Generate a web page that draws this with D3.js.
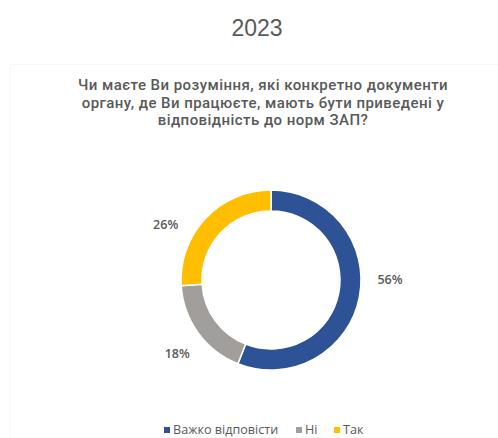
<!DOCTYPE html>
<html><head><meta charset="utf-8">
<script src="https://cdn.jsdelivr.net/npm/d3@7"></script>
<style>body{margin:0;background:#fff;}svg{display:block;}</style>
</head><body>
<svg id="c" width="498" height="438"></svg>
<script>
const chartTitle = "2023";
const questionLines = ["Чи маєте Ви розуміння, які конкретно документи",
  "органу, де Ви працюєте, мають бути приведені у",
  "відповідність до норм ЗАП?"];
const categories = ["Важко відповісти", "Ні", "Так"];
const values = [56, 18, 26];
const colors = ["#2D5296", "#A19E9C", "#FFBF00"];

const svg = d3.select("#c");
const textGray = "#595959";
const font = "'Open Sans', 'Noto Sans', sans-serif";

// faint frame
svg.append("rect").attr("x", 10.5).attr("y", 64.5).attr("width", 520).attr("height", 400)
  .attr("fill", "none").attr("stroke", "#f7f7f7");

svg.append("text").attr("x", 257).attr("y", 36).attr("text-anchor", "middle")
  .attr("font-family", "'Liberation Sans', Arial, sans-serif").attr("font-size", 23)
  .attr("fill", textGray).text(chartTitle);

svg.append("g").selectAll("text").data(questionLines).join("text")
  .attr("x", 263).attr("y", (d, i) => 90 + i * 17.6).attr("text-anchor", "middle")
  .attr("font-family", "Roboto, 'Liberation Sans', sans-serif").attr("font-weight", 500).attr("font-size", 15)
  .attr("letter-spacing", 0.45)
  .attr("fill", textGray).text(d => d);

const cx = 271, cy = 280, R = 90, r = 69;
const pie = d3.pie().sort(null).value(d => d.v);
const data = pie(categories.map((c, i) => ({c, v: values[i], i})));
const arc = d3.arc().innerRadius(r).outerRadius(R);
const g = svg.append("g").attr("transform", `translate(${cx},${cy})`);
g.selectAll("path").data(data).join("path")
  .attr("d", arc).attr("fill", d => colors[d.data.i])
  .attr("stroke", "#fff").attr("stroke-width", 1.5);

const labelNudge = [-10.8, -2, -15.5];
const labelR = 119;
g.selectAll("text").data(data).join("text")
  .attr("x", d => { const a = (d.startAngle + d.endAngle) / 2 + labelNudge[d.data.i] * Math.PI / 180; return Math.sin(a) * labelR; })
  .attr("y", d => { const a = (d.startAngle + d.endAngle) / 2 + labelNudge[d.data.i] * Math.PI / 180; return -Math.cos(a) * labelR; })
  .attr("dy", "0.35em").attr("text-anchor", "middle")
  .attr("font-family", font).attr("font-weight", 600).attr("font-size", 12.5)
  .attr("fill", textGray).text(d => d.data.v + "%");

// legend
const legendX = [164, 296, 334];
const lg = svg.append("g");
categories.forEach((c, i) => {
  lg.append("rect").attr("x", legendX[i]).attr("y", 427).attr("width", 6).attr("height", 6).attr("fill", colors[i]);
  lg.append("text").attr("x", legendX[i] + 9).attr("y", 430).attr("dy", "0.35em")
    .attr("font-family", font).attr("font-size", 12.6).attr("fill", textGray).text(c);
});
</script>
</body></html>
